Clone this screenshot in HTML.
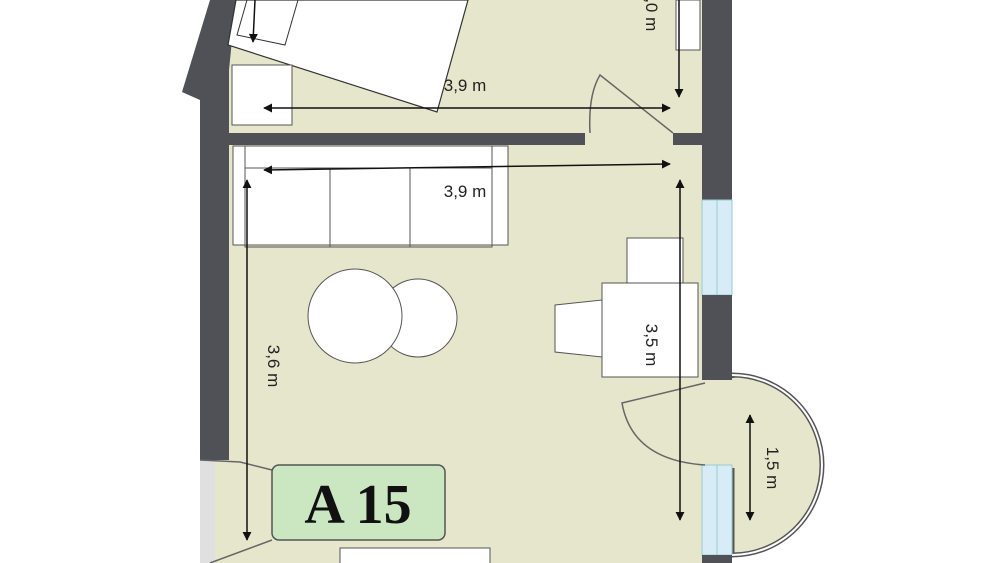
<!DOCTYPE html>
<html><head><meta charset="utf-8"><style>html,body{margin:0;padding:0;background:#fff}svg{display:block}</style></head>
<body>
<svg width="1000" height="563" viewBox="0 0 1000 563" xmlns="http://www.w3.org/2000/svg" font-family="Liberation Sans, sans-serif">
<defs>
<marker id="a" viewBox="0 0 10 10" refX="9" refY="5" markerWidth="9" markerHeight="9" markerUnits="userSpaceOnUse" orient="auto-start-reverse"><path d="M0,0 L10,5 L0,10 z" fill="#111"/></marker>
</defs>
<style>line[marker-end],line[marker-start]{}</style>
<!-- floor -->
<polygon points="226,0 705,0 705,563 215,563 215,460 229,460" fill="#e6e6cc"/>
<!-- balcony -->
<path d="M732,375 A90,90 0 0 1 732,555 Z" fill="#e6e6cc" stroke="#555" stroke-width="5"/>
<path d="M732,375 A90,90 0 0 1 732,555" fill="none" stroke="#fff" stroke-width="2"/>
<rect x="700" y="378" width="36" height="90" fill="#e6e6cc"/>
<!-- left bottom light -->
<rect x="200" y="460" width="15" height="103" fill="#e0e0e0"/>
<!-- walls -->
<polygon points="210,0 236,0 229,70 229,460 200,460 200,100 182,92" fill="#4f5156"/>
<rect x="229" y="133" width="356" height="12" fill="#4f5156"/>
<rect x="673" y="133" width="30" height="12" fill="#4f5156"/>
<rect x="702" y="0" width="30" height="200" fill="#4f5156"/>
<rect x="702" y="200" width="30" height="95" fill="#d8ecf8" stroke="#9cc" stroke-width="1"/>
<line x1="717" y1="200" x2="717" y2="295" stroke="#9cc"/>
<rect x="702" y="295" width="30" height="85" fill="#4f5156"/>
<rect x="702" y="465" width="30" height="90" fill="#d8ecf8" stroke="#9cc" stroke-width="1"/>
<line x1="717" y1="465" x2="717" y2="555" stroke="#9cc"/>
<rect x="702" y="555" width="30" height="8" fill="#4f5156"/>
<!-- bed -->
<polygon points="236,0 468,0 437,112 228,45" fill="#fff" stroke="#333" stroke-width="1.2"/>
<polygon points="247,0 298,0 285,45 237,35" fill="none" stroke="#333" stroke-width="1"/>
<line x1="255" y1="0" x2="253" y2="42" stroke="#111" stroke-width="1.5" marker-end="url(#a)"/>
<!-- nightstand -->
<rect x="232" y="65" width="60" height="60" fill="#fff" stroke="#555"/>
<!-- cabinet top right -->
<rect x="676" y="0" width="24" height="50" fill="#fff" stroke="#555"/>
<!-- door upper -->
<path d="M590,133 Q588,95 600,75 L673,133" fill="none" stroke="#666" stroke-width="1.5"/>
<!-- sofa -->
<rect x="233" y="146" width="275" height="99" fill="#fff" stroke="#555"/>
<line x1="245" y1="146" x2="245" y2="240" stroke="#555"/>
<line x1="492" y1="146" x2="492" y2="240" stroke="#555"/>
<rect x="245" y="168" width="247" height="79" fill="none" stroke="#555"/>
<line x1="330" y1="168" x2="330" y2="247" stroke="#555"/>
<line x1="410" y1="168" x2="410" y2="247" stroke="#555"/>
<!-- tables -->
<circle cx="418" cy="318" r="39" fill="#fff" stroke="#555"/>
<circle cx="355" cy="316" r="47" fill="#fff" stroke="#555"/>
<!-- desk and chairs -->
<rect x="627" y="238" width="56" height="45" fill="#fff" stroke="#555"/>
<polygon points="555,305 602,300 602,357 555,352" fill="#fff" stroke="#555"/>
<rect x="602" y="283" width="96" height="94" fill="#fff" stroke="#555"/>
<!-- balcony door -->
<path d="M705,383 L622,403 Q632,460 705,465" fill="none" stroke="#666" stroke-width="1.5"/>
<!-- bottom door lines -->
<path d="M200,460 L240,462 L272,470" fill="none" stroke="#666" stroke-width="1.5"/>
<path d="M272,540 L210,563" fill="none" stroke="#666" stroke-width="1.5"/>
<rect x="340" y="548" width="150" height="20" fill="#fff" stroke="#555"/>
<!-- dimension lines -->
<g stroke="#111" stroke-width="1.5" fill="none">
<line x1="264" y1="108" x2="670" y2="108" marker-start="url(#a)" marker-end="url(#a)"/>
<line x1="264" y1="170" x2="670" y2="164" marker-start="url(#a)" marker-end="url(#a)"/>
<line x1="679" y1="0" x2="679" y2="97" marker-end="url(#a)"/>
<line x1="247" y1="180" x2="247" y2="540" marker-start="url(#a)" marker-end="url(#a)"/>
<line x1="680" y1="180" x2="680" y2="520" marker-start="url(#a)" marker-end="url(#a)"/>
<line x1="750" y1="415" x2="750" y2="520" marker-start="url(#a)" marker-end="url(#a)"/>
</g>
<g font-size="17" fill="#222">
<text x="465" y="91" text-anchor="middle">3,9 m</text>
<text x="465" y="197" text-anchor="middle">3,9 m</text>
<text transform="translate(268,366) rotate(90)" text-anchor="middle">3,6 m</text>
<text transform="translate(646,345) rotate(90)" text-anchor="middle">3,5 m</text>
<text transform="translate(767,468) rotate(90)" text-anchor="middle">1,5 m</text>
<text transform="translate(646,10) rotate(90)" text-anchor="middle">2,0 m</text>
</g>
<!-- label -->
<rect x="272" y="465" width="173" height="75" rx="7" fill="#cbe7c2" stroke="#555" stroke-width="1.5"/>
<text x="358" y="523" text-anchor="middle" font-family="Liberation Serif, serif" font-weight="bold" font-size="56" fill="#111">A 15</text>
</svg>
</body></html>
